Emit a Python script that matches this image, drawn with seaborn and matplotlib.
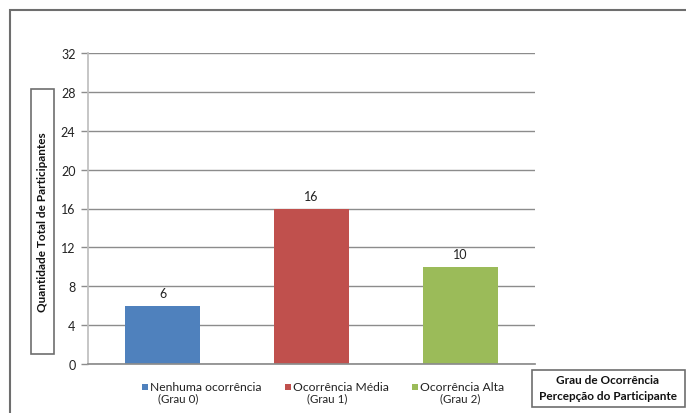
import matplotlib
matplotlib.use("Agg")
import matplotlib.pyplot as plt
import seaborn as sns
import pandas as pd
from matplotlib.patches import Rectangle

categories = ["Nenhuma ocorrência", "Ocorrência Média", "Ocorrência Alta"]
sublabels = ["(Grau 0)", "(Grau 1)", "(Grau 2)"]
values = [6, 16, 10]
colors = ["#4F81BD", "#C0504D", "#9BBB59"]
yticks = [0, 4, 8, 12, 16, 20, 24, 28, 32]

sns.set_theme(style="white")
plt.rcParams["font.family"] = ["Lato", "DejaVu Sans"]

df = pd.DataFrame({"cat": categories, "val": values})

W, H = 686, 414
fig = plt.figure(figsize=(W / 100, H / 100), dpi=100)
fig.patch.set_facecolor("white")

ax = fig.add_axes([88 / W, 1 - 365 / H, (535 - 88) / W, (365 - 54) / H])
sns.barplot(data=df, x="cat", y="val", hue="cat", palette=colors, width=0.5,
            dodge=False, legend=False, ax=ax, saturation=1, linewidth=0)

ax.set_ylim(0, 32)
ax.set_yticks(yticks)
ax.set_yticklabels([str(t) for t in yticks], fontsize=9, color="#222222")
ax.set_xticks([])
ax.set_xlabel("")
ax.set_ylabel("")
ax.yaxis.grid(True, color="#8c8c8c", linewidth=1)
ax.set_axisbelow(True)
for s in ["top", "right"]:
    ax.spines[s].set_visible(False)
ax.spines["left"].set_color("#bfbfbf")
ax.spines["bottom"].set_color("#8c8c8c")
ax.tick_params(axis="y", which="both", left=True, length=5, color="#8c8c8c",
               width=1, pad=4)

for i, v in enumerate(values):
    ax.annotate(str(v), (i, v), xytext=(0, 5), textcoords="offset points",
                ha="center", va="bottom", fontsize=9, color="#222222")

# outer border
fig.patches.append(Rectangle((10 / W, -0.05), 1.1, 1 - 11 / H + 0.05,
                             transform=fig.transFigure, fill=False,
                             edgecolor="#6e6e6e", linewidth=1.5))

# y label box
fig.patches.append(Rectangle((31 / W, 1 - 355 / H), 23 / W, 265 / H,
                             transform=fig.transFigure, fill=False,
                             edgecolor="#6e6e6e", linewidth=1.2))
fig.text(43 / W, 1 - 222 / H, "Quantidade Total de Participantes",
         rotation=90, ha="center", va="center", fontsize=8.5,
         fontweight="bold", color="#111111")

# x title box
fig.patches.append(Rectangle((532 / W, 1 - 408 / H), 153 / W, 37 / H,
                             transform=fig.transFigure, fill=False,
                             edgecolor="#6e6e6e", linewidth=1.2))
fig.text(608 / W, 1 - 381 / H, "Grau de Ocorrência", ha="center",
         va="center", fontsize=8.5, fontweight="bold", color="#111111")
fig.text(608 / W, 1 - 397 / H, "Percepção do Participante", ha="center",
         va="center", fontsize=8.5, fontweight="bold", color="#111111")

# legend
sq_x = [142, 285, 412]
sub_x = [158, 307, 440]
for i in range(3):
    fig.patches.append(Rectangle((sq_x[i] / W, 1 - 391 / H), 6 / W, 6 / H,
                                 transform=fig.transFigure,
                                 facecolor=colors[i], edgecolor="none"))
    fig.text((sq_x[i] + 8) / W, 1 - 388 / H, categories[i], ha="left",
             va="center", fontsize=8.7, color="#222222")
    fig.text(sub_x[i] / W, 1 - 399 / H, sublabels[i], ha="left",
             va="center", fontsize=8.3, color="#222222")

fig.savefig("out.png", dpi=100, facecolor="white")
